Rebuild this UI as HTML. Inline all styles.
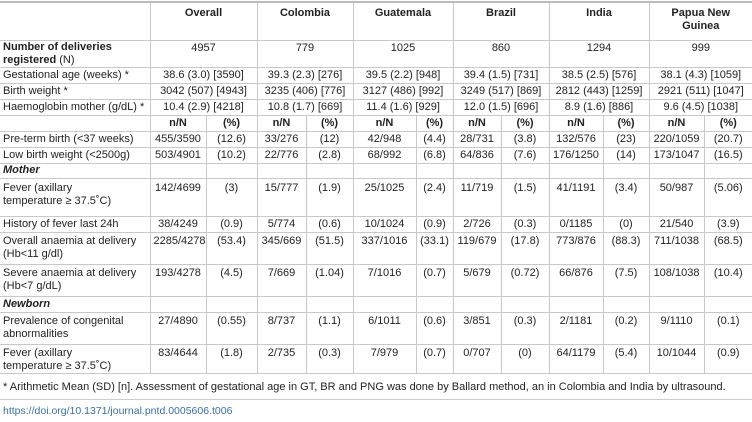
<!DOCTYPE html>
<html><head><meta charset="utf-8"><style>
body{margin:0;width:752px;height:422px;background:#fff;font-family:"Liberation Sans",sans-serif;font-size:11px;color:#222;overflow:hidden;position:relative}
table{position:absolute;left:0;top:1px;border-collapse:collapse;table-layout:fixed;width:752px}
td{border:1px solid #c8c8c8;padding:0 3px;line-height:13px;text-align:center;white-space:nowrap;overflow:hidden}
tr>td:first-child{text-align:left;border-left:none;white-space:normal}
tr>td:last-child{border-right:none}
table tr:first-child td{border-top:2px solid #bbb}
.h td{font-weight:bold}
.b{font-weight:bold}
.i{font-weight:bold;font-style:italic}
.t td{vertical-align:top;padding-top:2px}
.fn{position:absolute;left:3px;top:381px;font-size:11px}
.ln{position:absolute;left:0;top:399px;width:752px;border-top:1px solid #ccc}
.doi{position:absolute;left:3px;top:405px;color:#3a6ea5;font-size:10.5px}
</style></head><body>
<table>
<colgroup><col style="width:150px"><col style="width:56px"><col style="width:51px"><col style="width:49px"><col style="width:47px"><col style="width:63px"><col style="width:37px"><col style="width:48px"><col style="width:48px"><col style="width:54px"><col style="width:46px"><col style="width:55px"><col style="width:48px"></colgroup>
<tr class="h" style="height:38px"><td></td><td colspan="2" style="vertical-align:top;padding-top:4px">Overall</td><td colspan="2" style="vertical-align:top;padding-top:4px">Colombia</td><td colspan="2" style="vertical-align:top;padding-top:4px">Guatemala</td><td colspan="2" style="vertical-align:top;padding-top:4px">Brazil</td><td colspan="2" style="vertical-align:top;padding-top:4px">India</td><td colspan="2" style="vertical-align:top;padding-top:4px;white-space:normal">Papua New Guinea</td></tr>
<tr style="height:24px"><td><span class="b">Number of deliveries<br>registered</span> (N)</td><td colspan="2" style="vertical-align:top;padding-top:1px">4957</td><td colspan="2" style="vertical-align:top;padding-top:1px">779</td><td colspan="2" style="vertical-align:top;padding-top:1px">1025</td><td colspan="2" style="vertical-align:top;padding-top:1px">860</td><td colspan="2" style="vertical-align:top;padding-top:1px">1294</td><td colspan="2" style="vertical-align:top;padding-top:1px">999</td></tr>
<tr style="height:16px"><td>Gestational age (weeks) *</td><td colspan="2">38.6 (3.0) [3590]</td><td colspan="2">39.3 (2.3) [276]</td><td colspan="2">39.5 (2.2) [948]</td><td colspan="2">39.4 (1.5) [731]</td><td colspan="2">38.5 (2.5) [576]</td><td colspan="2">38.1 (4.3) [1059]</td></tr>
<tr style="height:16px"><td>Birth weight *</td><td colspan="2">3042 (507) [4943]</td><td colspan="2">3235 (406) [776]</td><td colspan="2">3127 (486) [992]</td><td colspan="2">3249 (517) [869]</td><td colspan="2">2812 (443) [1259]</td><td colspan="2">2921 (511) [1047]</td></tr>
<tr style="height:16px"><td>Haemoglobin mother (g/dL) *</td><td colspan="2">10.4 (2.9) [4218]</td><td colspan="2">10.8 (1.7) [669]</td><td colspan="2">11.4 (1.6) [929]</td><td colspan="2">12.0 (1.5) [696]</td><td colspan="2">8.9 (1.6) [886]</td><td colspan="2">9.6 (4.5) [1038]</td></tr>
<tr class="h" style="height:16px"><td></td><td>n/N</td><td>(%)</td><td>n/N</td><td>(%)</td><td>n/N</td><td>(%)</td><td>n/N</td><td>(%)</td><td>n/N</td><td>(%)</td><td>n/N</td><td>(%)</td></tr>
<tr style="height:16px"><td>Pre-term birth (&lt;37 weeks)</td><td>455/3590</td><td>(12.6)</td><td>33/276</td><td>(12)</td><td>42/948</td><td>(4.4)</td><td>28/731</td><td>(3.8)</td><td>132/576</td><td>(23)</td><td>220/1059</td><td>(20.7)</td></tr>
<tr style="height:16px"><td>Low birth weight (&lt;2500g)</td><td>503/4901</td><td>(10.2)</td><td>22/776</td><td>(2.8)</td><td>68/992</td><td>(6.8)</td><td>64/836</td><td>(7.6)</td><td>176/1250</td><td>(14)</td><td>173/1047</td><td>(16.5)</td></tr>
<tr style="height:15px"><td class="i">Mother</td><td></td><td></td><td></td><td></td><td></td><td></td><td></td><td></td><td></td><td></td><td></td><td></td></tr>
<tr class="t" style="height:38px"><td style="padding-top:3px">Fever (axillary<br>temperature &ge; 37.5˚C)</td><td style="padding-top:3px">142/4699</td><td style="padding-top:3px">(3)</td><td style="padding-top:3px">15/777</td><td style="padding-top:3px">(1.9)</td><td style="padding-top:3px">25/1025</td><td style="padding-top:3px">(2.4)</td><td style="padding-top:3px">11/719</td><td style="padding-top:3px">(1.5)</td><td style="padding-top:3px">41/1191</td><td style="padding-top:3px">(3.4)</td><td style="padding-top:3px">50/987</td><td style="padding-top:3px">(5.06)</td></tr>
<tr style="height:16px"><td>History of fever last 24h</td><td>38/4249</td><td>(0.9)</td><td>5/774</td><td>(0.6)</td><td>10/1024</td><td>(0.9)</td><td>2/726</td><td>(0.3)</td><td>0/1185</td><td>(0)</td><td>21/540</td><td>(3.9)</td></tr>
<tr class="t" style="height:32px"><td>Overall anaemia at delivery<br>(Hb&lt;11 g/dl)</td><td>2285/4278</td><td>(53.4)</td><td>345/669</td><td>(51.5)</td><td>337/1016</td><td>(33.1)</td><td>119/679</td><td>(17.8)</td><td>773/876</td><td>(88.3)</td><td>711/1038</td><td>(68.5)</td></tr>
<tr class="t" style="height:32px"><td>Severe anaemia at delivery<br>(Hb&lt;7 g/dL)</td><td>193/4278</td><td>(4.5)</td><td>7/669</td><td>(1.04)</td><td>7/1016</td><td>(0.7)</td><td>5/679</td><td>(0.72)</td><td>66/876</td><td>(7.5)</td><td>108/1038</td><td>(10.4)</td></tr>
<tr style="height:16px"><td class="i">Newborn</td><td></td><td></td><td></td><td></td><td></td><td></td><td></td><td></td><td></td><td></td><td></td><td></td></tr>
<tr class="t" style="height:32px"><td>Prevalence of congenital<br>abnormalities</td><td>27/4890</td><td>(0.55)</td><td>8/737</td><td>(1.1)</td><td>6/1011</td><td>(0.6)</td><td>3/851</td><td>(0.3)</td><td>2/1181</td><td>(0.2)</td><td>9/1110</td><td>(0.1)</td></tr>
<tr class="t" style="height:29px"><td>Fever (axillary<br>temperature &ge; 37.5˚C)</td><td>83/4644</td><td>(1.8)</td><td>2/735</td><td>(0.3)</td><td>7/979</td><td>(0.7)</td><td>0/707</td><td>(0)</td><td>64/1179</td><td>(5.4)</td><td>10/1044</td><td>(0.9)</td></tr>
</table>
<div class="fn">* Arithmetic Mean (SD) [n]. Assessment of gestational age in GT, BR and PNG was done by Ballard method, an in Colombia and India by ultrasound.</div>
<div class="ln"></div>
<div class="doi">https://doi.org/10.1371/journal.pntd.0005606.t006</div>
</body></html>
